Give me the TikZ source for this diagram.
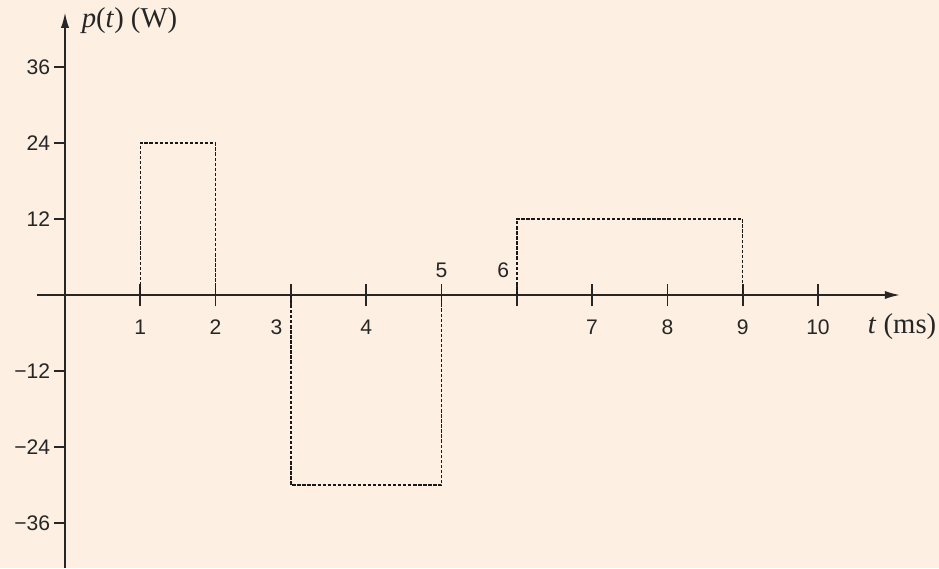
\documentclass[tikz,border=0pt]{standalone}
\usepackage{fontspec}
\setmainfont{Liberation Serif}
\newfontfamily\numfont{Liberation Sans}
\usetikzlibrary{arrows.meta}
\definecolor{bgpeach}{HTML}{FDF0E2}
\begin{document}
\begin{tikzpicture}[x=2.259cm, y=0.19cm, >={Latex[length=13pt,width=7pt]},
    axis/.style={line width=1.5pt, black!85},
    pulse/.style={line width=1.25pt, dash pattern=on 2.8pt off 1.5pt, black!90},
    num/.style={font=\numfont\fontsize{18}{21}\selectfont, text=black!85},
    unit/.style={font=\fontsize{24.5}{28}\selectfont, text=black!85}]
        
        % background and frame
        \fill[bgpeach] (-0.8632, -43.11) rectangle (11.607, 46.58);
        \useasboundingbox (-0.8632, -43.11) rectangle (11.607, 46.58);
        
        % axes
        \coordinate (o) at (0, 0);
        \coordinate (xl) at (-0.372, 0);
        \coordinate (xr) at (11.09, 0);
        \coordinate (yb) at (0, -43.11);
        \coordinate (yt) at (0, 44.6);
        \draw[axis, ->] (xl) -- (xr);
        \draw[axis, ->] (yb) -- (yt);
        \node[unit, anchor=west, inner sep=0pt] (plabel) at (0.22, 43.3) {\textit{p}(\textit{t}) (W)};
        \node[unit, anchor=west, inner sep=0pt] (tlabel) at (10.66, -5.0) {\textit{t} (ms)};
        
        % y ticks
        \foreach \v/\s in {36/36, 24/24, 12/12, -12/−12, -24/−24, -36/−36}
            \draw[axis] (0, \v) -- (-0.146, \v) node[num, left, inner sep=2.5pt] {\s};
        
        % x ticks
        \foreach \t in {1,...,10}
            \draw[axis] (\t, -1.8) -- (\t, 1.8);
        \foreach \t in {1, 2, 4, 7, 8, 9, 10}
            \node[num] (n\t) at (\t, -5.05) {\t};
        \node[num] (n3) at (2.81, -5.05) {3};
        \node[num] (n5) at (5, 3.95) {5};
        \node[num] (n6) at (5.82, 3.95) {6};
        
        % pulses
        \draw[pulse] (1, 0) -- (1, 24) -- (2, 24) -- (2, 0);
        \draw[pulse] (3, 0) -- (3, -30) -- (5, -30) -- (5, 0);
        \draw[pulse] (6, 0) -- (6, 12) -- (9, 12) -- (9, 0);
    \end{tikzpicture}
\end{document}
